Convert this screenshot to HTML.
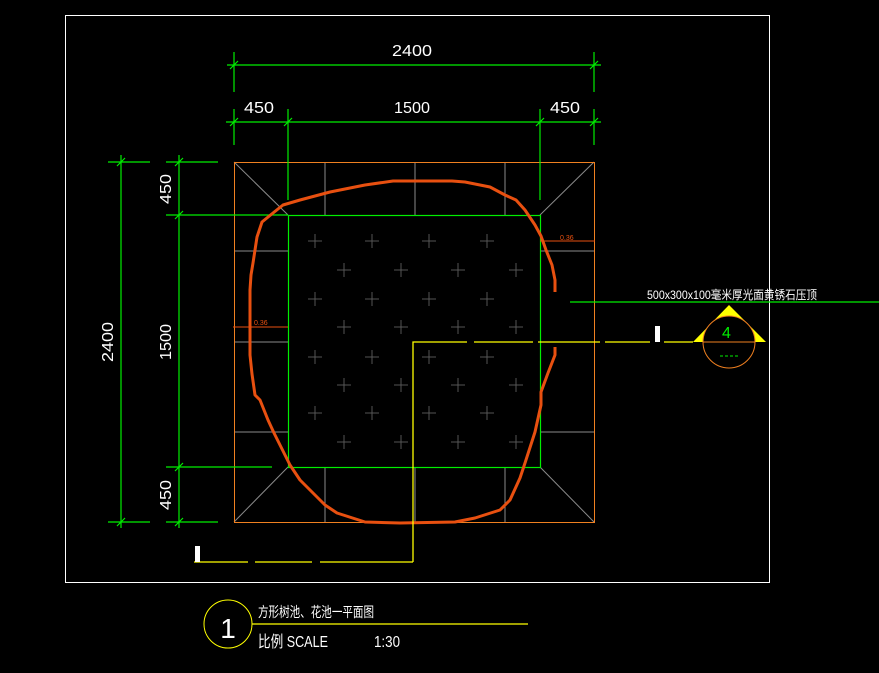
<!DOCTYPE html>
<html><head><meta charset="utf-8"><style>
html,body{margin:0;padding:0;background:#000;}
svg{display:block;}
text{font-family:"Liberation Sans","Noto Sans CJK SC",sans-serif;fill:#fff;}
</style></head><body>
<svg width="879" height="673" viewBox="0 0 879 673" xmlns="http://www.w3.org/2000/svg">
<rect x="0" y="0" width="879" height="673" fill="#000"/>
<!-- frame -->
<rect x="65.5" y="15.5" width="704" height="567" fill="none" stroke="#fff" stroke-width="1"/>

<!-- gray tile lines -->
<g stroke="#8a8a8a" stroke-width="1">
<line x1="325" y1="162" x2="325" y2="215"/><line x1="415" y1="162" x2="415" y2="215"/><line x1="505" y1="162" x2="505" y2="215"/>
<line x1="325" y1="467" x2="325" y2="522"/><line x1="415" y1="467" x2="415" y2="522"/><line x1="505" y1="467" x2="505" y2="522"/>
<line x1="234" y1="251" x2="288" y2="251"/><line x1="234" y1="342" x2="288" y2="342"/><line x1="234" y1="432" x2="288" y2="432"/>
<line x1="540" y1="251" x2="594" y2="251"/><line x1="540" y1="342" x2="594" y2="342"/><line x1="540" y1="432" x2="594" y2="432"/>
<line x1="234" y1="162" x2="288" y2="215"/><line x1="594" y1="162" x2="540" y2="215"/>
<line x1="234" y1="522" x2="288" y2="467"/><line x1="594" y1="522" x2="540" y2="467"/>
</g>
<!-- crosses -->
<g stroke="#555" stroke-width="1">
<path d="M308 241h14M315 234v14M365 241h14M372 234v14M422 241h14M429 234v14M480 241h14M487 234v14
M337 270h14M344 263v14M394 270h14M401 263v14M451 270h14M458 263v14M509 270h14M516 263v14
M308 299h14M315 292v14M365 299h14M372 292v14M422 299h14M429 292v14M480 299h14M487 292v14
M337 327h14M344 320v14M394 327h14M401 320v14M451 327h14M458 320v14M509 327h14M516 320v14
M308 357h14M315 350v14M365 357h14M372 350v14M422 357h14M429 350v14M480 357h14M487 350v14
M337 385h14M344 378v14M394 385h14M401 378v14M451 385h14M458 378v14M509 385h14M516 378v14
M308 413h14M315 406v14M365 413h14M372 406v14M422 413h14M429 406v14M480 413h14M487 406v14
M337 442h14M344 435v14M394 442h14M401 435v14M451 442h14M458 435v14M509 442h14M516 435v14"/>
</g>
<!-- outer orange square -->
<rect x="234.5" y="162.5" width="360" height="360" fill="none" stroke="#f08020" stroke-width="1"/>
<!-- green inner square + dims -->
<g stroke="#00ee00" stroke-width="1.2" fill="none">
<rect x="288.5" y="215.5" width="252" height="252"/>
<line x1="227" y1="65" x2="601" y2="65"/>
<line x1="234" y1="52" x2="234" y2="92"/><line x1="594" y1="52" x2="594" y2="92"/>
<line x1="226" y1="122" x2="601" y2="122"/>
<line x1="234" y1="109" x2="234" y2="145"/><line x1="594" y1="109" x2="594" y2="145"/>
<line x1="288" y1="109" x2="288" y2="200"/><line x1="540" y1="109" x2="540" y2="200"/>
<line x1="121" y1="155" x2="121" y2="528"/><line x1="179" y1="155" x2="179" y2="528"/>
<line x1="108" y1="162" x2="150" y2="162"/><line x1="166" y1="162" x2="218" y2="162"/>
<line x1="108" y1="522" x2="150" y2="522"/><line x1="166" y1="522" x2="218" y2="522"/>
<line x1="166" y1="215" x2="288" y2="215"/><line x1="166" y1="467" x2="272" y2="467"/>
<line x1="570" y1="302" x2="879" y2="302"/>
<path d="M230 69l8-8M590 69l8-8M230 126l8-8M284 126l8-8M536 126l8-8M590 126l8-8M117 166l8-8M117 526l8-8M175 166l8-8M175 219l8-8M175 471l8-8M175 526l8-8"/>
</g>
<!-- red 0.36 dims -->
<g stroke="#e85010" stroke-width="1">
<line x1="233" y1="327" x2="288" y2="327"/><line x1="540" y1="241" x2="595" y2="241"/>
</g>
<text x="254" y="325" font-size="7" style="fill:#e85010">0.36</text>
<text x="560" y="240" font-size="7" style="fill:#e85010">0.36</text>
<!-- orange curve -->
<path d="M555,292 L555,280 552,265 546,250 541,236 535,225 525,210 516,200 505,195 490,187 465,182 452,181 400,181 393,181 365,185 330,192 300,200 283,205 273,213 262,222 257,237 253,263 251,275 250,290 250,355 252,374 255,395 260,400 268,420 274,433 290,465 300,480 325,505 337,513 365,522 400,523 455,522 475,518 500,510 510,500 520,478 525,463 535,432 541,405 541,392 548,373 555,355 555,347" fill="none" stroke="#e85010" stroke-width="3" stroke-linejoin="round"/>
<!-- yellow section lines -->
<g stroke="#ffff00" stroke-width="1.3" fill="none">
<path d="M413 562V342H467M474 342H533M538 342H600M605 342H650M664 342H693"/>
<path d="M194 562H248M255 562H312M320 562H413"/>
</g>
<rect x="655" y="326" width="5" height="16" fill="#fff"/>
<rect x="195" y="546" width="5" height="16" fill="#fff"/>
<!-- index symbol -->
<polygon points="729,305 693,342 766,342" fill="#ffff00"/>
<circle cx="729" cy="342" r="26" fill="#000" stroke="#f08020" stroke-width="1"/>
<line x1="703" y1="342" x2="755" y2="342" stroke="#f08020" stroke-width="1"/>
<text x="722" y="338" font-size="16" style="fill:#00ee00">4</text>
<line x1="720" y1="356" x2="738" y2="356" stroke="#00ee00" stroke-width="1" stroke-dasharray="3,2"/>
<text x="647" y="299" font-size="12" textLength="170" lengthAdjust="spacingAndGlyphs">500x300x100毫米厚光面黄锈石压顶</text>
<!-- dim texts -->
<g font-size="16">
<text x="412" y="56" text-anchor="middle" textLength="40" lengthAdjust="spacingAndGlyphs">2400</text>
<text x="259" y="113" text-anchor="middle" textLength="30" lengthAdjust="spacingAndGlyphs">450</text>
<text x="412" y="113" text-anchor="middle" textLength="36" lengthAdjust="spacingAndGlyphs">1500</text>
<text x="565" y="113" text-anchor="middle" textLength="30" lengthAdjust="spacingAndGlyphs">450</text>
<text transform="translate(113,342) rotate(-90)" text-anchor="middle" textLength="40" lengthAdjust="spacingAndGlyphs">2400</text>
<text transform="translate(171,189) rotate(-90)" text-anchor="middle" textLength="30" lengthAdjust="spacingAndGlyphs">450</text>
<text transform="translate(171,342) rotate(-90)" text-anchor="middle" textLength="36" lengthAdjust="spacingAndGlyphs">1500</text>
<text transform="translate(171,495) rotate(-90)" text-anchor="middle" textLength="30" lengthAdjust="spacingAndGlyphs">450</text>
</g>
<!-- title -->
<circle cx="228" cy="624" r="24" fill="none" stroke="#ffff00" stroke-width="1"/>
<text x="228" y="638" font-size="28" text-anchor="middle" font-weight="normal">1</text>
<line x1="252" y1="624" x2="528" y2="624" stroke="#ffff00" stroke-width="1.2"/>
<text x="258" y="617" font-size="14" textLength="116" lengthAdjust="spacingAndGlyphs">方形树池、花池一平面图</text>
<text x="258" y="647" font-size="16" textLength="70" lengthAdjust="spacingAndGlyphs">比例 SCALE</text>
<text x="374" y="647" font-size="16" textLength="26" lengthAdjust="spacingAndGlyphs">1:30</text>
</svg>
</body></html>
